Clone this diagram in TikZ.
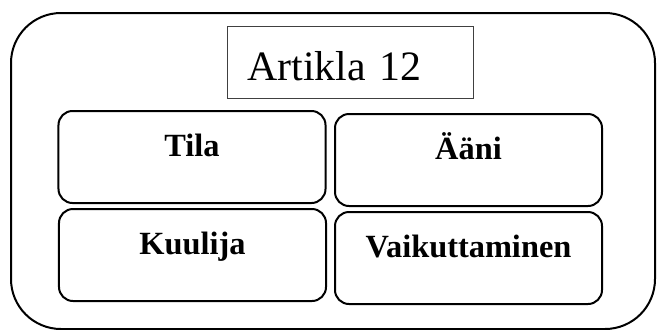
\documentclass[tikz,border=0pt]{standalone}
\usepackage{fontspec}
\setmainfont{Liberation Serif}
\tikzset{
  cell/.style={draw,line width=2bp,rounded corners=14bp,inner sep=0pt,
    minimum width=267bp,text height=45bp,text depth=47bp,anchor=base,
    font=\fontsize{32.5}{37}\selectfont\bfseries},
  titlebox/.style={draw=black!75,line width=1bp,inner xsep=20bp,inner ysep=0pt,
    text width=206bp,align=left,text height=54bp,text depth=18bp,anchor=base west,
    font=\fontsize{42}{48}\selectfont}
}

\begin{document}
\begin{tikzpicture}[x=1bp,y=-1bp]
  \useasboundingbox (0,0) rectangle (665,329);
  \draw[line width=2bp,rounded corners=50bp] (11,13) rectangle (655,329);
  \node[titlebox] (title) at (227,80) {Artikla 12};
  \node[cell] (tila) at (192,156) {Tila};
  \node[cell] (aani) at (468.5,159) {Ääni};
  \node[cell] (kuulija) at (192.5,254) {Kuulija};
  \node[cell] (vaikutus) at (468.5,257) {Vaikuttaminen};
\end{tikzpicture}
\end{document}
